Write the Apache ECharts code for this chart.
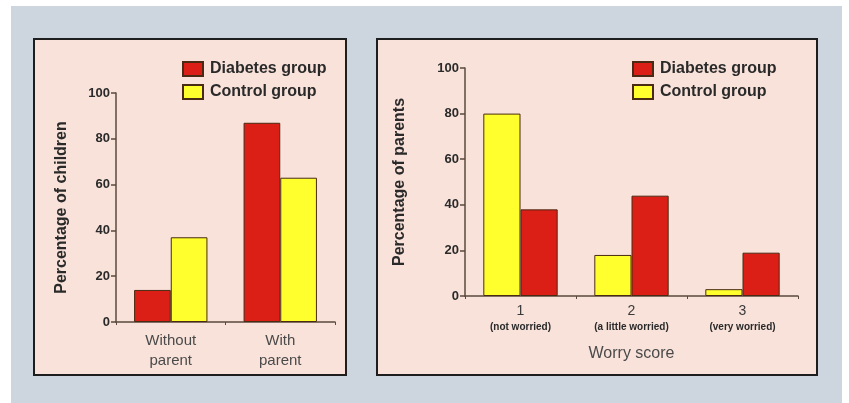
<!DOCTYPE html>
<html>
<head>
<meta charset="utf-8">
<script src="https://cdn.jsdelivr.net/npm/echarts@6/dist/echarts.min.js"></script>
<style>
html,body{margin:0;padding:0;background:#ffffff;}
#c{width:849px;height:403px;}
</style>
</head>
<body>
<div id="c"></div>
<script>
// Panel 1 data
const catsChildren = ['Without\nparent', 'With\nparent'];
const childDiabetes = [14, 87];
const childControl = [37, 63];
// Panel 2 data
const worryScores = ['1', '2', '3'];
const worrySub = ['(not worried)', '(a little worried)', '(very worried)'];
const parentControl = [80, 18, 3];
const parentDiabetes = [38, 44, 19];
const yTicks = { min: 0, max: 100, interval: 20 };

const RED = '#dc1f16';
const YELLOW = '#ffff2e';
const EDGE = '#4a2a12';
const AXIS = '#5a4a3e';
const FONT = 'Liberation Sans, Arial, sans-serif';

const chart = echarts.init(document.getElementById('c'));

const yAxisBase = {
  type: 'value', min: yTicks.min, max: yTicks.max, interval: yTicks.interval,
  nameLocation: 'middle', nameRotate: 90,
  nameTextStyle: { fontFamily: FONT, fontSize: 16, fontWeight: 'bold', color: '#2a2a2a' },
  axisLine: { show: true, lineStyle: { color: AXIS, width: 1.5 } },
  axisTick: { show: true, length: 5, lineStyle: { color: AXIS, width: 1.5 } },
  axisLabel: { fontFamily: FONT, fontSize: 13, fontWeight: 'bold', color: '#2a2a2a', margin: 6 },
  splitLine: { show: false }
};

const xAxisBase = {
  type: 'category',
  axisLine: { show: true, lineStyle: { color: AXIS, width: 1.5 } },
  axisTick: { show: true, length: 3, lineStyle: { color: AXIS, width: 1 } },
  splitLine: { show: false }
};

const legendBase = {
  orient: 'vertical', icon: 'rect', itemWidth: 20, itemHeight: 14, itemGap: 7,
  data: ['Diabetes group', 'Control group'],
  textStyle: { fontFamily: FONT, fontSize: 16, fontWeight: 'bold', color: '#2a2a2a', padding: [0, 0, 0, 2] },
  selectedMode: false
};

const barStyle = (c) => ({ color: c, borderColor: EDGE, borderWidth: 1 });

chart.setOption({
  animation: false,
  graphic: [
    { type: 'rect', shape: { x: 11, y: 6, width: 831, height: 397 }, style: { fill: '#cdd6df' }, z: -10 },
    { type: 'rect', shape: { x: 34, y: 39, width: 312, height: 336 }, style: { fill: '#f9e2da', stroke: '#1e1e1e', lineWidth: 2 }, z: -9 },
    { type: 'rect', shape: { x: 377, y: 39, width: 440, height: 336 }, style: { fill: '#f9e2da', stroke: '#1e1e1e', lineWidth: 2 }, z: -9 }
  ],
  legend: [
    Object.assign({}, legendBase, { left: 177, top: 56 }),
    Object.assign({}, legendBase, { left: 627, top: 56 })
  ],
  grid: [
    { left: 116, right: 514, top: 93, bottom: 81 },
    { left: 465, right: 51, top: 68, bottom: 107 }
  ],
  xAxis: [
    Object.assign({}, xAxisBase, {
      gridIndex: 0, data: catsChildren,
      axisLabel: { fontFamily: FONT, fontSize: 15, color: '#4a4a4a', lineHeight: 20, margin: 9, interval: 0 }
    }),
    Object.assign({}, xAxisBase, {
      gridIndex: 1, data: worryScores,
      name: 'Worry score', nameLocation: 'middle', nameGap: 50,
      nameTextStyle: { fontFamily: FONT, fontSize: 16, color: '#4a4a4a' },
      axisLabel: {
        margin: 6, interval: 0, hideOverlap: false,
        formatter: (v, i) => '{a|' + v + '}\n{b|' + worrySub[i] + '}',
        rich: {
          a: { fontFamily: FONT, fontSize: 14, color: '#3a3a3a', lineHeight: 18 },
          b: { fontFamily: FONT, fontSize: 10, fontWeight: 'bold', color: '#2a2a2a', lineHeight: 14 }
        }
      }
    })
  ],
  yAxis: [
    Object.assign({}, yAxisBase, { gridIndex: 0, name: 'Percentage of children', nameGap: 46 }),
    Object.assign({}, yAxisBase, { gridIndex: 1, name: 'Percentage of parents', nameGap: 57 })
  ],
  series: [
    { name: 'Diabetes group', type: 'bar', xAxisIndex: 0, yAxisIndex: 0, data: childDiabetes,
      barGap: '0%', barCategoryGap: '33%', itemStyle: barStyle(RED) },
    { name: 'Control group', type: 'bar', xAxisIndex: 0, yAxisIndex: 0, data: childControl,
      barGap: '0%', barCategoryGap: '33%', itemStyle: barStyle(YELLOW) },
    { name: 'Control group', type: 'bar', xAxisIndex: 1, yAxisIndex: 1, data: parentControl,
      barGap: '0%', barCategoryGap: '33%', itemStyle: barStyle(YELLOW) },
    { name: 'Diabetes group', type: 'bar', xAxisIndex: 1, yAxisIndex: 1, data: parentDiabetes,
      barGap: '0%', barCategoryGap: '33%', itemStyle: barStyle(RED) }
  ]
});
</script>
</body>
</html>
